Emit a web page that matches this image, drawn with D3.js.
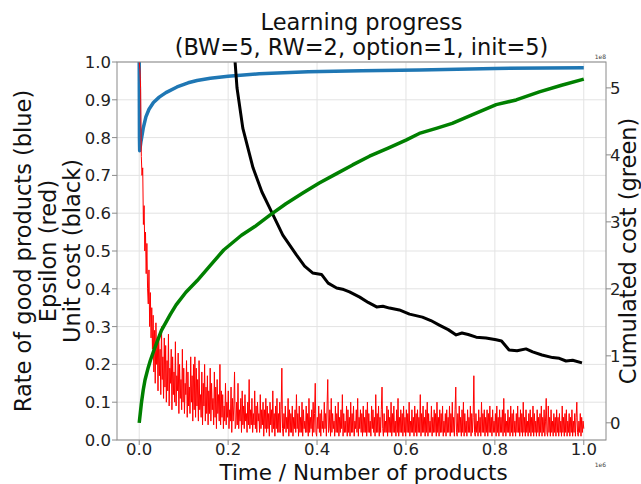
<!DOCTYPE html>
<html>
<head>
<meta charset="utf-8">
<script src="https://cdn.jsdelivr.net/npm/d3@7"></script>
<style>
  html, body { margin: 0; padding: 0; background: #fff; }
  svg { display: block; font-family: "DejaVu Sans", sans-serif; }
  .tick-label { font-size: 16.5px; fill: #222; }
  .axis-title { font-size: 22.5px; fill: #111; }
  .xlabel { font-size: 21.5px; fill: #111; }
  .offset { font-size: 6px; fill: #444; }
</style>
</head>
<body>
<div id="chart"></div>
<script>
// Lernkurve: Anteil guter Produkte (blau), Epsilon (rot), Stückkosten (schwarz)
// links auf [0,1], kumulierte Kosten (grün) auf der rechten Achse (x1e8).

// Zeit in Einheiten von 1e6 Produkten
const BLUE = [
  [0, 1.0], [0.0005, 0.80], [0.001, 0.765], [0.004, 0.79], [0.009, 0.825],
  [0.015, 0.855], [0.022, 0.875], [0.032, 0.893], [0.045, 0.907], [0.06, 0.919],
  [0.085, 0.934], [0.11, 0.945], [0.13, 0.951], [0.16, 0.957], [0.2, 0.962],
  [0.27, 0.969], [0.38, 0.974], [0.5, 0.977], [0.63, 0.979], [0.8, 0.983], [1.0, 0.985]
];

const BLACK = [
  [0.205, 1.15], [0.215, 1.01], [0.22, 0.931], [0.233, 0.825], [0.256, 0.72],
  [0.276, 0.656], [0.298, 0.603], [0.323, 0.542], [0.354, 0.489], [0.372, 0.46],
  [0.39, 0.442], [0.41, 0.438], [0.425, 0.415], [0.444, 0.402], [0.46, 0.398],
  [0.473, 0.392], [0.496, 0.378], [0.515, 0.364], [0.534, 0.352], [0.548, 0.354],
  [0.563, 0.349], [0.585, 0.344], [0.608, 0.333], [0.637, 0.325], [0.656, 0.316],
  [0.675, 0.304], [0.695, 0.292], [0.713, 0.278], [0.726, 0.283], [0.74, 0.279],
  [0.758, 0.272], [0.78, 0.27], [0.803, 0.265], [0.815, 0.262], [0.832, 0.238],
  [0.85, 0.236], [0.87, 0.241], [0.885, 0.233], [0.906, 0.225], [0.93, 0.218],
  [0.945, 0.216], [0.96, 0.209], [0.975, 0.211], [0.996, 0.204]
];

// kumulierte Kosten in Einheiten von 1e8
const GREEN = [
  [0, 0], [0.005, 0.3], [0.009, 0.49], [0.013, 0.64], [0.02, 0.82], [0.025, 0.93],
  [0.035, 1.12], [0.05, 1.38], [0.07, 1.62], [0.083, 1.76], [0.105, 1.95], [0.13, 2.12],
  [0.16, 2.35], [0.19, 2.58], [0.23, 2.8], [0.26, 2.93], [0.294, 3.10], [0.33, 3.27],
  [0.368, 3.43], [0.405, 3.58], [0.444, 3.72], [0.48, 3.85], [0.518, 3.98], [0.56, 4.10],
  [0.6, 4.22], [0.63, 4.32], [0.67, 4.40], [0.704, 4.47], [0.75, 4.60], [0.803, 4.75],
  [0.848, 4.82], [0.9, 4.94], [0.95, 5.04], [1.0, 5.13]
];

// Epsilon, gleichmäßig über 0 .. 1.0 (x1e6) abgetastet
const EPSILON = [
  1.00, 0.98, 0.93, 0.75, 0.70, 0.72, 0.57, 0.62, 0.50, 0.55, 0.44, 0.52, 0.40, 0.36, 0.45, 0.30, 0.39, 0.27, 0.35, 0.24,
  0.33, 0.18, 0.29, 0.15, 0.31, 0.20, 0.26, 0.13, 0.28, 0.17, 0.24, 0.12, 0.30, 0.16, 0.22, 0.11, 0.27, 0.14, 0.25, 0.10,
  0.21, 0.13, 0.28, 0.09, 0.19, 0.15, 0.24, 0.08, 0.22, 0.12, 0.18, 0.10, 0.26, 0.09, 0.17, 0.13, 0.23, 0.07, 0.20, 0.11,
  0.16, 0.08, 0.24, 0.10, 0.19, 0.07, 0.15, 0.12, 0.21, 0.06, 0.18, 0.09, 0.14, 0.07, 0.22, 0.10, 0.17, 0.05, 0.20, 0.08,
  0.22, 0.06, 0.19, 0.09, 0.16, 0.05, 0.21, 0.08, 0.12, 0.06, 0.18, 0.04, 0.15, 0.09, 0.20, 0.05, 0.14, 0.07, 0.17, 0.04,
  0.13, 0.07, 0.19, 0.05, 0.15, 0.08, 0.11, 0.04, 0.18, 0.06, 0.14, 0.03, 0.16, 0.07, 0.12, 0.05, 0.20, 0.04, 0.13, 0.06,
  0.12, 0.03, 0.09, 0.05, 0.15, 0.04, 0.10, 0.06, 0.13, 0.03, 0.08, 0.05, 0.14, 0.02, 0.11, 0.05, 0.09, 0.18, 0.03, 0.04,
  0.10, 0.04, 0.15, 0.03, 0.08, 0.05, 0.11, 0.02, 0.13, 0.04, 0.09, 0.03, 0.12, 0.05, 0.07, 0.02, 0.10, 0.04, 0.16, 0.03,
  0.08, 0.04, 0.11, 0.02, 0.07, 0.04, 0.13, 0.03, 0.09, 0.02, 0.10, 0.05, 0.07, 0.02, 0.12, 0.03, 0.08, 0.04, 0.10, 0.01,
  0.08, 0.03, 0.11, 0.02, 0.09, 0.03, 0.07, 0.01, 0.10, 0.04, 0.08, 0.02, 0.13, 0.03, 0.07, 0.01, 0.09, 0.03, 0.11, 0.02,
  0.07, 0.02, 0.10, 0.02, 0.08, 0.19, 0.03, 0.01, 0.07, 0.03, 0.09, 0.02, 0.06, 0.03, 0.11, 0.01, 0.08, 0.02, 0.07, 0.02,
  0.09, 0.01, 0.06, 0.03, 0.08, 0.02, 0.12, 0.03, 0.07, 0.01, 0.09, 0.02, 0.06, 0.02, 0.10, 0.01, 0.08, 0.03, 0.05, 0.02,
  0.09, 0.02, 0.07, 0.01, 0.11, 0.02, 0.06, 0.03, 0.08, 0.01, 0.10, 0.02, 0.07, 0.15, 0.02, 0.01, 0.06, 0.03, 0.09, 0.02,
  0.07, 0.01, 0.08, 0.03, 0.05, 0.02, 0.10, 0.03, 0.07, 0.01, 0.09, 0.16, 0.02, 0.03, 0.08, 0.01, 0.11, 0.02, 0.07, 0.03,
  0.05, 0.01, 0.09, 0.02, 0.07, 0.02, 0.10, 0.01, 0.06, 0.02, 0.08, 0.03, 0.12, 0.01, 0.07, 0.02, 0.05, 0.02, 0.09, 0.01,
  0.08, 0.02, 0.06, 0.01, 0.10, 0.02, 0.07, 0.02, 0.09, 0.01, 0.05, 0.03, 0.08, 0.02, 0.11, 0.01, 0.06, 0.03, 0.08, 0.02,
  0.07, 0.01, 0.09, 0.02, 0.06, 0.02, 0.08, 0.01, 0.10, 0.02, 0.07, 0.02, 0.05, 0.01, 0.09, 0.03, 0.08, 0.02, 0.06, 0.01,
  0.12, 0.02, 0.07, 0.02, 0.09, 0.01, 0.06, 0.02, 0.08, 0.14, 0.03, 0.01, 0.07, 0.02, 0.05, 0.02, 0.09, 0.01, 0.08, 0.02,
  0.06, 0.02, 0.10, 0.01, 0.07, 0.02, 0.09, 0.02, 0.05, 0.01, 0.08, 0.02, 0.11, 0.01, 0.06, 0.02, 0.08, 0.02, 0.07, 0.01,
  0.09, 0.02, 0.06, 0.01, 0.08, 0.02, 0.07, 0.02, 0.10, 0.01, 0.05, 0.02, 0.08, 0.02, 0.06, 0.01, 0.09, 0.02, 0.07, 0.01,
  0.08, 0.02, 0.06, 0.02, 0.12, 0.01, 0.07, 0.02, 0.09, 0.02, 0.06, 0.01, 0.08, 0.02, 0.10, 0.01, 0.07, 0.02, 0.05, 0.02,
  0.09, 0.01, 0.06, 0.02, 0.08, 0.02, 0.07, 0.01, 0.10, 0.02, 0.06, 0.01, 0.08, 0.02, 0.07, 0.02, 0.09, 0.01, 0.05, 0.02,
  0.07, 0.01, 0.08, 0.02, 0.06, 0.02, 0.09, 0.01, 0.07, 0.02, 0.10, 0.02, 0.06, 0.01, 0.08, 0.14, 0.02, 0.01, 0.07, 0.02,
  0.09, 0.02, 0.06, 0.01, 0.08, 0.02, 0.10, 0.01, 0.07, 0.02, 0.05, 0.01, 0.08, 0.02, 0.06, 0.02, 0.09, 0.01, 0.07, 0.02,
  0.06, 0.17, 0.02, 0.01, 0.07, 0.02, 0.05, 0.01, 0.08, 0.02, 0.06, 0.01, 0.10, 0.02, 0.07, 0.02, 0.08, 0.01, 0.06, 0.02,
  0.08, 0.01, 0.07, 0.02, 0.09, 0.02, 0.06, 0.01, 0.08, 0.02, 0.05, 0.02, 0.07, 0.01, 0.09, 0.02, 0.06, 0.01, 0.08, 0.02,
  0.06, 0.02, 0.08, 0.01, 0.11, 0.02, 0.07, 0.01, 0.05, 0.02, 0.08, 0.02, 0.06, 0.01, 0.09, 0.02, 0.07, 0.01, 0.08, 0.02,
  0.05, 0.01, 0.07, 0.02, 0.09, 0.02, 0.06, 0.01, 0.08, 0.02, 0.07, 0.01, 0.10, 0.02, 0.06, 0.01, 0.08, 0.02, 0.05, 0.01,
  0.07, 0.02, 0.08, 0.01, 0.06, 0.02, 0.09, 0.01, 0.07, 0.02, 0.05, 0.01, 0.08, 0.02, 0.06, 0.01, 0.07, 0.02, 0.09, 0.01,
  0.06, 0.02, 0.08, 0.01, 0.05, 0.11, 0.02, 0.01, 0.09, 0.02, 0.06, 0.01, 0.08, 0.02, 0.05, 0.01, 0.07, 0.02, 0.06, 0.01,
  0.08, 0.02, 0.06, 0.01, 0.07, 0.02, 0.05, 0.01, 0.09, 0.02, 0.06, 0.01, 0.07, 0.02, 0.08, 0.01, 0.05, 0.02, 0.07, 0.01,
  0.06, 0.02, 0.08, 0.01, 0.05, 0.02, 0.07, 0.01, 0.06, 0.10, 0.02, 0.01, 0.05, 0.02, 0.07, 0.01, 0.06, 0.02, 0.05, 0.03
];

const X_TICKS = [0, 0.2, 0.4, 0.6, 0.8, 1.0];
const Y_TICKS = [0, 0.1, 0.2, 0.3, 0.4, 0.5, 0.6, 0.7, 0.8, 0.9, 1.0];
const Y2_TICKS = [0, 1, 2, 3, 4, 5];

const TITLE_LINES = ["Learning progress", "(BW=5, RW=2, option=1, init=5)"];
const YLABEL_LINES = ["Rate of good products (blue)", "Epsilon (red)", "Unit cost (black)"];

const W = 641, H = 484;
const M = { left: 117, right: 35, top: 62, bottom: 44 };
const plotW = W - M.left - M.right;
const plotH = H - M.top - M.bottom;

// matplotlib-artige 5 % Ränder
const x = d3.scaleLinear().domain([-0.05, 1.05]).range([M.left, M.left + plotW]);
const y = d3.scaleLinear().domain([0, 1]).range([M.top + plotH, M.top]);
const gExt = d3.extent(GREEN, d => d[1]);
const gPad = (gExt[1] - gExt[0]) * 0.05;
const y2 = d3.scaleLinear().domain([gExt[0] - gPad, gExt[1] + gPad]).range([M.top + plotH, M.top]);

const svg = d3.select("#chart").append("svg").attr("width", W).attr("height", H);
svg.append("rect").attr("width", W).attr("height", H).attr("fill", "#fff");

svg.append("defs").append("clipPath").attr("id", "plot-clip")
  .append("rect").attr("x", M.left).attr("y", M.top).attr("width", plotW).attr("height", plotH);

// Gitter
const grid = svg.append("g").attr("stroke", "#e3e3e3").attr("stroke-width", 1);
Y_TICKS.forEach(t => {
  grid.append("line").attr("x1", M.left).attr("x2", M.left + plotW)
    .attr("y1", y(t)).attr("y2", y(t));
});
X_TICKS.forEach(t => {
  grid.append("line").attr("y1", M.top).attr("y2", M.top + plotH)
    .attr("x1", x(t)).attr("x2", x(t));
});

// Kurven
const plot = svg.append("g").attr("clip-path", "url(#plot-clip)");
const line = d3.line().x(d => x(d[0])).y(d => y(d[1]));
const line2 = d3.line().x(d => x(d[0])).y(d => y2(d[1]));
const epsLine = d3.line().x((d, i) => x(i / (EPSILON.length - 1))).y(d => y(d));

plot.append("path").datum(BLUE).attr("d", line)
  .attr("fill", "none").attr("stroke", "#1f77b4").attr("stroke-width", 3.5).attr("stroke-linejoin", "round");
plot.append("path").datum(EPSILON).attr("d", epsLine)
  .attr("fill", "none").attr("stroke", "#ff0000").attr("stroke-width", 1).attr("stroke-linejoin", "round");
plot.append("path").datum(BLACK).attr("d", line)
  .attr("fill", "none").attr("stroke", "#000").attr("stroke-width", 3).attr("stroke-linejoin", "round");
plot.append("path").datum(GREEN).attr("d", line2)
  .attr("fill", "none").attr("stroke", "#008000").attr("stroke-width", 3.5).attr("stroke-linejoin", "round");

// Achsen
const spine = "#8a8a8a";
svg.append("rect").attr("x", M.left).attr("y", M.top).attr("width", plotW).attr("height", plotH)
  .attr("fill", "none").attr("stroke", spine).attr("stroke-width", 1);

const axes = svg.append("g").attr("stroke", spine).attr("stroke-width", 1);
const labels = svg.append("g");
Y_TICKS.forEach(t => {
  axes.append("line").attr("x1", M.left - 5).attr("x2", M.left).attr("y1", y(t)).attr("y2", y(t));
  labels.append("text").attr("class", "tick-label").attr("x", M.left - 6).attr("y", y(t))
    .attr("dy", "0.36em").attr("text-anchor", "end").text(t.toFixed(1));
});
Y2_TICKS.forEach(t => {
  axes.append("line").attr("x1", M.left + plotW).attr("x2", M.left + plotW + 5).attr("y1", y2(t)).attr("y2", y2(t));
  labels.append("text").attr("class", "tick-label").attr("x", M.left + plotW + 4).attr("y", y2(t))
    .attr("dy", "0.36em").text(t);
});
X_TICKS.forEach(t => {
  axes.append("line").attr("x1", x(t)).attr("x2", x(t)).attr("y1", M.top + plotH).attr("y2", M.top + plotH + 5);
  labels.append("text").attr("class", "tick-label").attr("x", x(t)).attr("y", M.top + plotH + 15)
    .attr("text-anchor", "middle").text(t.toFixed(1));
});

// Offset-Beschriftungen
labels.append("text").attr("class", "offset").attr("x", M.left + plotW).attr("y", M.top - 3)
  .attr("text-anchor", "end").text("1e8");
labels.append("text").attr("class", "offset").attr("x", M.left + plotW).attr("y", M.top + plotH + 27)
  .attr("text-anchor", "end").text("1e6");

// Titel
TITLE_LINES.forEach((s, i) => {
  labels.append("text").attr("class", "axis-title").attr("x", M.left + plotW / 2).attr("y", 30 + i * 25)
    .attr("text-anchor", "middle").text(s);
});

// Achsentitel
labels.append("text").attr("class", "xlabel").attr("x", M.left + plotW / 2 + 2).attr("y", 480)
  .attr("text-anchor", "middle").text("Time / Number of products");

const cy = M.top + plotH / 2;
YLABEL_LINES.forEach((s, i) => {
  labels.append("text").attr("class", "axis-title")
    .attr("transform", `translate(${31 + i * 24.5},${cy}) rotate(-90)`)
    .attr("text-anchor", "middle").text(s);
});
labels.append("text").attr("class", "axis-title")
  .attr("transform", `translate(636,${cy}) rotate(-90)`)
  .attr("text-anchor", "middle").text("Cumulated cost (green)");
</script>
</body>
</html>
